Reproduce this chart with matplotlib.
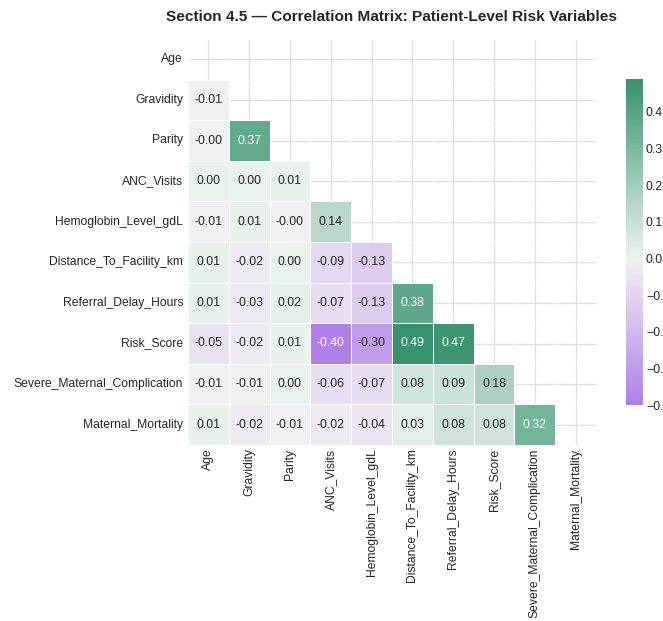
import numpy as np
import pandas as pd
import matplotlib
matplotlib.use("Agg")
import matplotlib.pyplot as plt
import seaborn as sns

variables = [
    "Age",
    "Gravidity",
    "Parity",
    "ANC_Visits",
    "Hemoglobin_Level_gdL",
    "Distance_To_Facility_km",
    "Referral_Delay_Hours",
    "Risk_Score",
    "Severe_Maternal_Complication",
    "Maternal_Mortality",
]

# Lower-triangle correlations, row by row (row i holds columns 0..i-1)
corr_gravidity = [-0.01]
corr_parity = [-0.004, 0.37]
corr_anc = [0.004, 0.004, 0.01]
corr_hemoglobin = [-0.01, 0.01, -0.004, 0.14]
corr_distance = [0.01, -0.02, 0.004, -0.09, -0.13]
corr_referral = [0.01, -0.03, 0.02, -0.07, -0.13, 0.38]
corr_risk = [-0.05, -0.02, 0.01, -0.40, -0.30, 0.49, 0.47]
corr_severe = [-0.01, -0.01, 0.004, -0.06, -0.07, 0.08, 0.09, 0.18]
corr_mortality = [0.01, -0.02, -0.01, -0.02, -0.04, 0.03, 0.08, 0.08, 0.32]

lower_rows = [
    [],
    corr_gravidity,
    corr_parity,
    corr_anc,
    corr_hemoglobin,
    corr_distance,
    corr_referral,
    corr_risk,
    corr_severe,
    corr_mortality,
]

title = "Section 4.5 \u2014 Correlation Matrix: Patient-Level Risk Variables"

sns.set_theme(style="whitegrid")
plt.rcParams["font.family"] = ["Liberation Sans", "DejaVu Sans"]

n = len(variables)
corr = np.eye(n)
for i, row in enumerate(lower_rows):
    for j, v in enumerate(row):
        corr[i, j] = v
        corr[j, i] = v
df = pd.DataFrame(corr, index=variables, columns=variables)
mask = np.triu(np.ones_like(corr, dtype=bool))

cmap = sns.diverging_palette(280, 150, s=82, l=55, as_cmap=True)

W, H = 663, 621
fig = plt.figure(figsize=(W / 100, H / 100), dpi=100)
ax = fig.add_axes([188 / W, 1 - 445 / H, 408 / W, 406 / H])
cax = fig.add_axes([626 / W, 1 - 405 / H, 16.5 / W, 326 / H])

sns.heatmap(
    df, mask=mask, cmap=cmap, center=0, annot=True, fmt=".2f",
    linewidths=0.5, linecolor="white", ax=ax, cbar_ax=cax,
    annot_kws={"size": 8.9},
)

ax.grid(True, color="#e0e0e0", linewidth=1.0)
ax.set_axisbelow(True)
ax.tick_params(axis="both", labelsize=8.7, length=0, colors="#262626")
ax.tick_params(axis="x", pad=2.5)
ax.set_xticklabels(variables, rotation=90)
ax.set_yticklabels(variables, rotation=0)
for s in ax.spines.values():
    s.set_visible(False)

cax.tick_params(labelsize=8.9, length=0, pad=2.5, colors="#262626")

fig.text(392 / W, 1 - 17 / H, title, ha="center", va="center",
         fontsize=11.1, fontweight="bold", color="#262626")

fig.savefig("out.png", dpi=100)
